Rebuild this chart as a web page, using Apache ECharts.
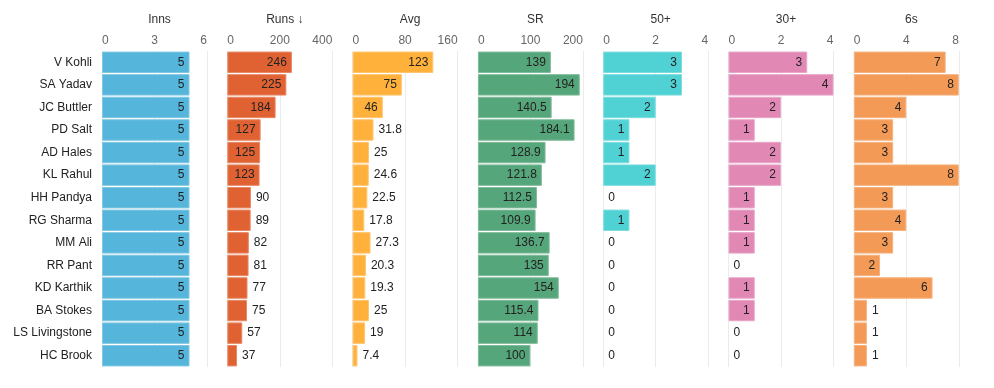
<!DOCTYPE html>
<html><head><meta charset="utf-8">
<script src="https://cdn.jsdelivr.net/npm/echarts@6/dist/echarts.min.js"></script>
<style>html,body{margin:0;padding:0;background:#fff}#c{width:994px;height:388px}</style>
</head><body><div id="c"></div>
<script>
const players = ["V Kohli","SA Yadav","JC Buttler","PD Salt","AD Hales","KL Rahul","HH Pandya","RG Sharma","MM Ali","RR Pant","KD Karthik","BA Stokes","LS Livingstone","HC Brook"];
const inns = [5,5,5,5,5,5,5,5,5,5,5,5,5,5];
const runs = [246,225,184,127,125,123,90,89,82,81,77,75,57,37];
const avg = [123,75,46,31.8,25,24.6,22.5,17.8,27.3,20.3,19.3,25,19,7.4];
const sr = [139,194,140.5,184.1,128.9,121.8,112.5,109.9,136.7,135,154,115.4,114,100];
const fifties = [3,3,2,1,1,2,0,1,0,0,0,0,0,0];
const thirties = [3,4,2,1,2,2,1,1,1,0,1,1,0,0];
const sixes = [7,8,4,3,3,8,3,4,3,2,6,1,1,1];
const titles = ["Inns","Runs ↓","Avg","SR","50+","30+","6s"];
const axisMax = [6,400,160,200,4,4,8];
const axisInterval = [3,200,80,100,2,2,4];
const colors = ["#55b5da","#e06233","#ffb13c","#56a67b","#50d1d4","#e188b5","#f39a56"];
const seriesData = [inns,runs,avg,sr,fifties,thirties,sixes];

(function(){
const FONT = "'Liberation Sans', Arial, sans-serif";
const left0 = 102, step = 125.3, pw = 105, gTop = 51, gH = 316;
const chart = echarts.init(document.getElementById('c'));
const grid = [], xAxis = [], yAxis = [], series = [], title = [];
function lighten(hex, a){
  const n = parseInt(hex.slice(1),16);
  let r=(n>>16)&255,g=(n>>8)&255,b=n&255;
  r=Math.round(r+(255-r)*a);g=Math.round(g+(255-g)*a);b=Math.round(b+(255-b)*a);
  return 'rgb('+r+','+g+','+b+')';
}
for (let i=0;i<7;i++){
  const l = left0 + i*step;
  grid.push({left:l, top:gTop, width:pw, height:gH});
  title.push({text:titles[i], left:l+pw/2, top:9, textAlign:'center',
    textStyle:{fontSize:12, fontWeight:'normal', color:'#333', fontFamily:FONT}});
  xAxis.push({type:'value', gridIndex:i, position:'top', min:0, max:axisMax[i], interval:axisInterval[i],
    axisLine:{show:false}, axisTick:{show:false},
    axisLabel:{color:'#666', fontSize:12, fontFamily:FONT, margin:4, alignMinLabel:'left', alignMaxLabel:'right'},
    splitLine:{show:true, lineStyle:{color:'#ebebeb', width:1}}});
  yAxis.push({type:'category', gridIndex:i, data:players, inverse:true,
    axisLine:{show:false}, axisTick:{show:false},
    axisLabel:{show:i===0, color:'#222', fontSize:12, fontFamily:FONT, margin:10},
    splitLine:{show:false}});
  const mx = axisMax[i];
  series.push({type:'bar', xAxisIndex:i, yAxisIndex:i, barCategoryGap:'5%',
    itemStyle:{color:colors[i], borderColor:lighten(colors[i],0.25), borderWidth:1},
    data: seriesData[i].map(v=>{
      const inside = v/mx*pw >= 24;
      const d = {value:v, label:{show:true, position: inside?'insideRight':'right', distance:5,
        color:'#222', fontSize:12, fontFamily:FONT}};
      if (v === 0) d.itemStyle = {borderWidth:0};
      return d;
    }),
    animation:false, silent:true});
}
chart.setOption({animation:false, textStyle:{fontFamily:FONT}, title, grid, xAxis, yAxis, series});
})();
</script></body></html>
